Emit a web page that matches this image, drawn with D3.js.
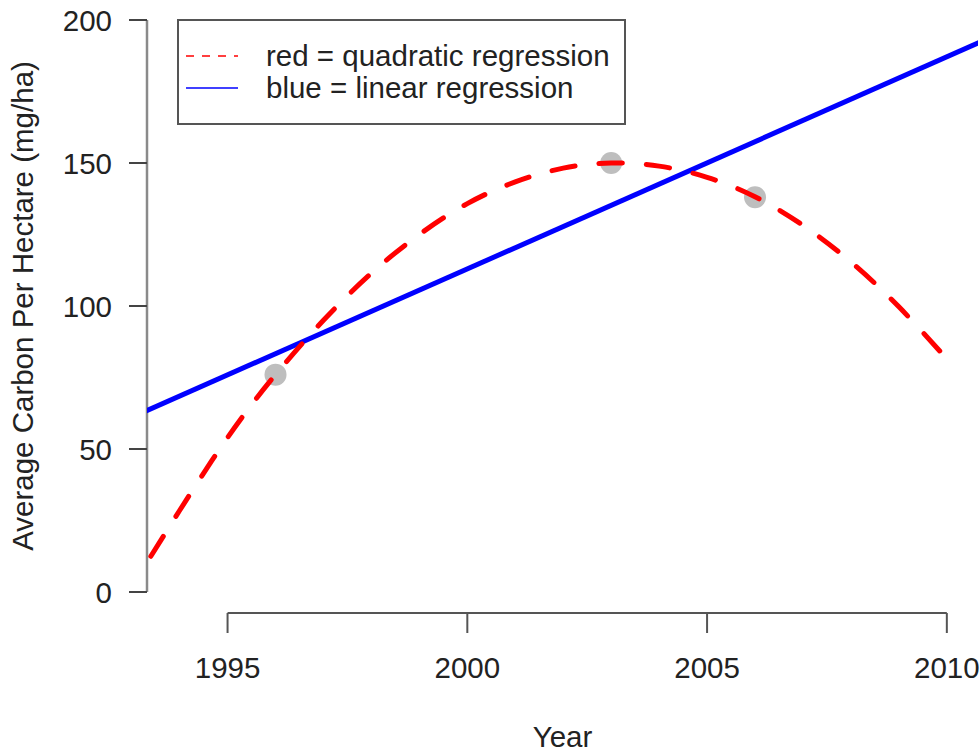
<!DOCTYPE html>
<html>
<head>
<meta charset="utf-8">
<script src="https://cdn.jsdelivr.net/npm/d3@7"></script>
<style>
    body { margin: 0; background: #fff; }
    text { font-family: "Liberation Sans", Arial, Helvetica, sans-serif; fill: #222; }
</style>
</head>
<body>
<div id="chart"></div>
<script>
// observed points
const years = [1996, 2003, 2006];
const carbon = [76, 150, 138];

// quadratic regression curve
const quadYears = [1993.4, 1994, 1995, 1996, 1997, 1998, 1999, 2000, 2001, 2002, 2003, 2004, 2005, 2006, 2007, 2008, 2009, 2010];
const quadValues = [12.5, 28.5, 54, 76, 95, 111.5, 125, 135.8, 143.4, 148.2, 150, 148.9, 145, 138.2, 128.2, 115.4, 99.7, 81.5];

// linear regression line (abline, clipped at plot edges)
const linYears = [1993.3, 2010.7];
const linValues = [63.3, 192.3];

const xTicks = [1995, 2000, 2005, 2010];
const yTicks = [0, 50, 100, 150, 200];

const legendLabels = ["red = quadratic regression", "blue = linear regression"];

const W = 980, H = 755;
const plot = {"left": 147, "right": 978, "top": -3, "bottom": 615};
const fontSize = "29.5px";

var x = d3.scaleLinear()
    .domain([1993.32, 2010.65])
    .range([plot.left, plot.right]);

var y = d3.scaleLinear()
    .domain([0, 200])
    .range([592, 20]);

var svg = d3.select("#chart").append("svg")
    .attr("width", W)
    .attr("height", H);

svg.append("clipPath")
    .attr("id", "clip")
    .append("rect")
        .attr("x", plot.left)
        .attr("y", plot.top)
        .attr("width", plot.right - plot.left)
        .attr("height", plot.bottom - plot.top);

// y axis
var yAxis = svg.append("g")
yAxis.append("line")
    .attr("x1", plot.left)
    .attr("x2", plot.left)
    .attr("y1", y(0))
    .attr("y2", y(200))
    .attr("stroke", "#8a8a8a")
    .attr("stroke-width", 2.5)

yAxis.selectAll(".ytick")
    .data(yTicks)
    .enter().append("line")
        .attr("class", "ytick")
        .attr("x1", plot.left - 18)
        .attr("x2", plot.left)
        .attr("y1", d => y(d))
        .attr("y2", d => y(d))
        .attr("stroke", "#444")
        .attr("stroke-width", 2)

yAxis.selectAll(".ylab")
    .data(yTicks)
    .enter().append("text")
        .attr("class", "ylab")
        .attr("x", 112)
        .attr("y", d => y(d))
        .attr("dy", "0.36em")
        .attr("text-anchor", "end")
        .style("font-size", fontSize)
        .text(d => d)

svg.append("text")
    .attr("transform", "translate(33," + ((plot.top + plot.bottom) / 2) + ") rotate(-90)")
    .attr("text-anchor", "middle")
    .style("font-size", fontSize)
    .text("Average Carbon Per Hectare (mg/ha)")

// x axis
var xAxis = svg.append("g")
xAxis.append("line")
    .attr("x1", x(1995))
    .attr("x2", x(2010))
    .attr("y1", 613)
    .attr("y2", 613)
    .attr("stroke", "#555")
    .attr("stroke-width", 2)

xAxis.selectAll(".xtick")
    .data(xTicks)
    .enter().append("line")
        .attr("class", "xtick")
        .attr("x1", d => x(d))
        .attr("x2", d => x(d))
        .attr("y1", 613)
        .attr("y2", 633)
        .attr("stroke", "#555")
        .attr("stroke-width", 2)

xAxis.selectAll(".xlab")
    .data(xTicks)
    .enter().append("text")
        .attr("class", "xlab")
        .attr("x", d => x(d))
        .attr("y", 678)
        .attr("text-anchor", "middle")
        .style("font-size", fontSize)
        .text(d => d)

svg.append("text")
    .attr("x", (plot.left + plot.right) / 2)
    .attr("y", 747)
    .attr("text-anchor", "middle")
    .style("font-size", fontSize)
    .text("Year")

// data
var g = svg.append("g")
    .attr("clip-path", "url(#clip)")

g.selectAll("circle")
    .data(years)
    .enter().append("circle")
        .attr("cx", d => x(d))
        .attr("cy", (d, i) => y(carbon[i]))
        .attr("r", 11)
        .attr("fill", "#bebebe")

var line = d3.line()
    .x(d => x(d[0]))
    .y(d => y(d[1]))

g.append("path")
    .datum(linYears.map((d, i) => [d, linValues[i]]))
    .attr("d", line)
    .attr("fill", "none")
    .attr("stroke", "#0000ff")
    .attr("stroke-width", 5)

g.append("path")
    .datum(quadYears.map((d, i) => [d, quadValues[i]]))
    .attr("d", line.curve(d3.curveNatural))
    .attr("fill", "none")
    .attr("stroke", "#ff0000")
    .attr("stroke-width", 5)
    .attr("stroke-linecap", "round")
    .attr("stroke-dasharray", "23.5 24")

// legend
var legend = svg.append("g")
legend.append("rect")
    .attr("x", 178)
    .attr("y", 20)
    .attr("width", 447)
    .attr("height", 104)
    .attr("fill", "#fff")
    .attr("stroke", "#555")
    .attr("stroke-width", 2)

var rows = legend.selectAll(".legrow")
    .data(legendLabels)
    .enter().append("g")
        .attr("class", "legrow")
        .attr("transform", (d, i) => "translate(0," + (i * 32) + ")")

rows.append("line")
    .attr("x1", 186)
    .attr("x2", 238)
    .attr("y1", 56)
    .attr("y2", 56)
    .attr("stroke", (d, i) => i == 0 ? "#ff0000" : "#0000ff")
    .attr("stroke-width", 1.5)
    .attr("stroke-dasharray", (d, i) => i == 0 ? "8 8" : null)

rows.append("text")
    .attr("x", 266)
    .attr("y", 66)
    .style("font-size", fontSize)
    .text(d => d)
</script>
</body>
</html>
